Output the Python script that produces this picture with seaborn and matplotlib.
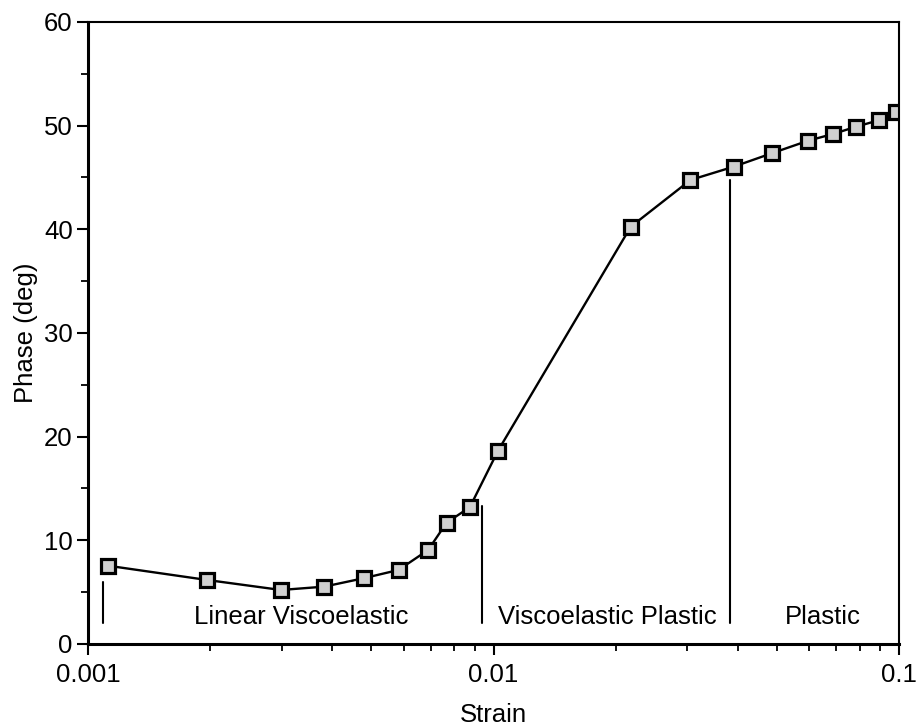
import matplotlib
matplotlib.use("Agg")
import matplotlib.pyplot as plt
import matplotlib.ticker as mticker
import seaborn as sns
import pandas as pd

strain = [0.00112, 0.00197, 0.00299, 0.00382, 0.00478, 0.00583, 0.0069, 0.00766,
          0.00874, 0.01026, 0.0218, 0.0306, 0.0391, 0.0485, 0.0597, 0.0688,
          0.0784, 0.0895, 0.0984]
phase = [7.55, 6.17, 5.21, 5.53, 6.34, 7.14, 9.07, 11.7, 13.19, 18.65, 40.25,
         44.76, 46.04, 47.33, 48.55, 49.2, 49.9, 50.54, 51.35]

# region boundary markers (strain, top phase)
boundary_strain = [0.00109, 0.00934, 0.0384]
boundary_top = [6.0, 13.3, 44.8]
boundary_bottom = 2.0

region_labels = ["Linear Viscoelastic", "Viscoelastic Plastic", "Plastic"]
region_label_x = [0.00335, 0.0191, 0.0648]

df = pd.DataFrame({"Strain": strain, "Phase": phase})

sns.set_style("ticks")
plt.rcParams['font.family'] = ['Liberation Sans', 'DejaVu Sans']
plt.rcParams['text.color'] = 'black'
plt.rcParams['axes.labelcolor'] = 'black'
plt.rcParams['xtick.color'] = 'black'
plt.rcParams['ytick.color'] = 'black'

fig = plt.figure(figsize=(9.2, 7.28), dpi=100)
ax = fig.add_axes([0.0957, 0.1154, 0.8815, 0.8544])

sns.lineplot(data=df, x="Strain", y="Phase", ax=ax, color="black", linewidth=1.7,
             marker="s", markersize=9.5, markerfacecolor="#d0d0d0",
             markeredgecolor="black", markeredgewidth=2.3)

for bx, bt in zip(boundary_strain, boundary_top):
    ax.plot([bx, bx], [boundary_bottom, bt], color="black", linewidth=1.5)

for lab, lx in zip(region_labels, region_label_x):
    ax.text(lx, 2.6, lab, ha="center", va="center", fontsize=18.5, color="black")

ax.set_xscale("log")
ax.set_xlim(0.001, 0.1)
ax.set_ylim(0, 60)
ax.xaxis.set_major_locator(mticker.FixedLocator([0.001, 0.01, 0.1]))
ax.xaxis.set_major_formatter(mticker.FixedFormatter(["0.001", "0.01", "0.1"]))
ax.xaxis.set_minor_locator(mticker.LogLocator(base=10, subs=range(2, 10)))
ax.xaxis.set_minor_formatter(mticker.NullFormatter())
ax.yaxis.set_major_locator(mticker.MultipleLocator(10))
ax.yaxis.set_minor_locator(mticker.MultipleLocator(5))

ax.tick_params(which="major", direction="out", length=8, width=1.5,
               labelsize=18.5, colors="black")
ax.tick_params(axis="x", which="major", pad=6)
ax.tick_params(axis="y", which="major", pad=3)
ax.tick_params(which="minor", direction="out", length=5, width=1.3)

for side in ["left", "bottom"]:
    ax.spines[side].set_linewidth(2.2)
for side in ["top", "right"]:
    ax.spines[side].set_visible(True)
    ax.spines[side].set_linewidth(1.5)
for s in ax.spines.values():
    s.set_color("black")

ax.set_xlabel("Strain", fontsize=18.5, color="black")
ax.set_ylabel("Phase (deg)", fontsize=18.5, color="black")
ax.xaxis.labelpad = 11
ax.yaxis.labelpad = 4

fig.savefig("out.png", dpi=100)
